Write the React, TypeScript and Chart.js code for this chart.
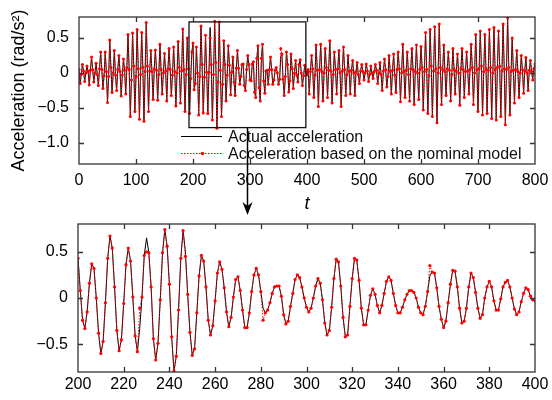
import React, { useEffect, useRef } from "react";
import { Chart, registerables } from "chart.js";

Chart.register(...registerables);

// ---------- DATA ----------
// Top panel: samples every 2 time units
const TOP_STEP = 2;
// t = 0 .. 198
const topHead = [
  0.05, -0.15, -0.02, 0.12, 0.03, -0.12, 0.0, 0.1, 0.02, -0.17, 0.04, 0.23,
  0.05, -0.13, 0.0, 0.14, -0.02, -0.18, 0.06, 0.3, 0.05, -0.22, -0.04, 0.3,
  0.02, -0.42, -0.05, 0.47, 0.08, -0.28, 0.0, 0.32, -0.03, -0.25, 0.05, 0.25,
  0.02, -0.33, -0.03, 0.2, 0.04, -0.3, 0.08, 0.55, 0.05, -0.62, -0.1, 0.57,
  0.1, -0.55, -0.05, 0.62, 0.06, -0.66, -0.02, 0.58, 0.08, -0.69, 0.02, 0.72,
  0.1, -0.55, 0.03, 0.32, 0.02, -0.38, 0.06, 0.33, 0.04, -0.39, -0.02, 0.41,
  0.05, -0.3, 0.0, 0.28, 0.03, -0.4, 0.06, 0.35, 0.05, -0.32, -0.03, 0.37,
  0.02, -0.47, 0.0, 0.45, 0.08, -0.43, 0.03, 0.63, 0.05, -0.55, -0.02, 0.5,
  0.06, -0.58, -0.08, 0.3,
];
// t = 402 .. 800
const topTail = [
  0.05, -0.3, 0.02, 0.25, 0.06, -0.35, -0.03, 0.4, 0.04, -0.48, 0.05, 0.41,
  0.02, -0.4, 0.0, 0.35, 0.08, -0.35, 0.04, 0.46, 0.03, -0.43, -0.02, 0.3,
  0.05, -0.3, 0.06, 0.32, 0.0, -0.48, 0.03, 0.37, 0.05, -0.32, -0.02, 0.25,
  0.02, -0.3, 0.04, 0.18, 0.0, -0.32, 0.02, 0.15, -0.02, -0.15, 0.03, 0.12,
  0.02, -0.1, 0.0, 0.13, 0.03, -0.12, -0.02, 0.1, 0.0, -0.08, 0.02, 0.12,
  0.04, -0.15, 0.0, 0.15, -0.02, -0.25, 0.03, 0.2, 0.05, -0.2, -0.05, 0.25,
  0.02, -0.3, 0.04, 0.27, -0.03, -0.28, 0.05, 0.3, 0.06, -0.41, 0.0, 0.41,
  0.02, -0.35, 0.04, 0.3, -0.02, -0.4, 0.06, 0.35, 0.05, -0.45, 0.02, 0.4,
  0.0, -0.38, 0.05, 0.38, 0.08, -0.53, 0.02, 0.58, 0.05, -0.58, -0.04, 0.62,
  0.1, -0.62, 0.03, 0.66, 0.06, -0.71, 0.0, 0.7, 0.08, -0.45, 0.05, 0.4,
  0.02, -0.32, 0.06, 0.3, 0.04, -0.4, -0.02, 0.35, 0.05, -0.3, 0.03, 0.27,
  0.0, -0.46, 0.06, 0.35, 0.05, -0.35, 0.02, 0.3, 0.03, -0.3, 0.05, 0.41,
  0.08, -0.45, 0.0, 0.55, 0.05, -0.55, 0.06, 0.6, 0.1, -0.6, 0.02, 0.55,
  0.06, -0.58, 0.04, 0.62, 0.08, -0.65, 0.0, 0.65, 0.05, -0.67, 0.08, 0.6,
  0.1, -0.62, 0.03, 0.7, 0.06, -0.74, 0.05, 0.79, 0.08, -0.6, 0.02, 0.5,
  0.04, -0.43, 0.05, 0.32, 0.02, -0.35, 0.0, 0.25, 0.05, -0.29, 0.03, 0.22,
  0.0, -0.25, 0.04, 0.18, 0.02, -0.1, 0.06, 0.13,
];

// Zoomed panel: t = 200 .. 400, every time unit
const ZOOM_START = 200;
const zoomActual = [
  0.43, 0.08, -0.24, -0.33, -0.15, 0.16, 0.37, 0.32, 0.0, -0.38,
  -0.6, -0.47, -0.05, 0.43, 0.67, 0.54, 0.12, -0.35, -0.57, -0.45,
  -0.06, 0.36, 0.54, 0.4, 0.01, -0.41, -0.58, -0.33, 0.01, 0.46,
  0.65, 0.49, 0.12, -0.44, -0.67, -0.49, -0.02, 0.49, 0.74, 0.56,
  0.15, -0.42, -0.79, -0.63, -0.13, 0.43, 0.73, 0.5, 0.04, -0.37,
  -0.62, -0.55, -0.16, 0.24, 0.46, 0.4, 0.12, -0.24, -0.4, -0.3,
  -0.03, 0.27, 0.39, 0.31, 0.11, -0.15, -0.31, -0.21, 0.01, 0.2,
  0.23, 0.08, -0.13, -0.32, -0.32, -0.16, 0.07, 0.25, 0.32, 0.25,
  0.07, -0.11, -0.16, -0.13, -0.05, 0.05, 0.12, 0.13, 0.13, 0.02,
  -0.18, -0.28, -0.25, -0.09, 0.05, 0.2, 0.25, 0.22, 0.12, 0.0,
  -0.1, -0.15, -0.11, 0.0, 0.13, 0.21, 0.16, -0.02, -0.27, -0.4,
  -0.35, -0.1, 0.21, 0.42, 0.39, 0.13, -0.21, -0.42, -0.4, -0.09,
  0.21, 0.43, 0.41, 0.19, -0.11, -0.29, -0.29, -0.13, 0.03, 0.1,
  0.04, -0.08, -0.16, -0.08, 0.05, 0.18, 0.23, 0.19, 0.05, -0.08,
  -0.16, -0.16, -0.1, -0.02, 0.04, 0.08, 0.08, 0.06, 0.0, -0.1,
  -0.16, -0.18, -0.09, 0.07, 0.24, 0.28, 0.27, 0.11, -0.09, -0.23,
  -0.32, -0.25, -0.05, 0.15, 0.3, 0.29, 0.12, -0.11, -0.27, -0.25,
  -0.11, 0.12, 0.27, 0.22, 0.06, -0.11, -0.22, -0.18, 0.0, 0.12,
  0.18, 0.12, -0.03, -0.13, -0.13, -0.01, 0.12, 0.17, 0.19, 0.12,
  0.0, -0.12, -0.18, -0.15, -0.04, 0.05, 0.11, 0.09, 0.02, -0.02,
  -0.03,
];
const zoomModel = [
  0.43, 0.08, -0.24, -0.33, -0.15, 0.16, 0.37, 0.32, 0.0, -0.38,
  -0.6, -0.47, -0.05, 0.43, 0.67, 0.54, 0.12, -0.35, -0.57, -0.45,
  -0.06, 0.36, 0.54, 0.4, 0.01, -0.41, -0.58, -0.11, 0.01, 0.46,
  0.5, 0.49, 0.12, -0.44, -0.67, -0.49, -0.02, 0.49, 0.74, 0.56,
  0.15, -0.42, -0.79, -0.63, -0.13, 0.43, 0.73, 0.45, 0.04, -0.37,
  -0.62, -0.55, -0.16, 0.24, 0.46, 0.4, 0.12, -0.24, -0.4, -0.3,
  -0.03, 0.27, 0.39, 0.31, 0.11, -0.15, -0.31, -0.21, 0.01, 0.2,
  0.23, 0.08, -0.13, -0.32, -0.32, -0.16, 0.07, 0.25, 0.32, 0.25,
  0.07, -0.24, -0.16, -0.13, -0.05, 0.05, 0.12, 0.13, 0.13, 0.02,
  -0.18, -0.28, -0.25, -0.09, 0.05, 0.2, 0.25, 0.22, 0.12, 0.0,
  -0.1, -0.15, -0.11, 0.0, 0.13, 0.21, 0.16, -0.02, -0.27, -0.4,
  -0.35, -0.1, 0.21, 0.42, 0.39, 0.13, -0.21, -0.42, -0.4, -0.09,
  0.21, 0.43, 0.41, 0.19, -0.11, -0.29, -0.29, -0.13, 0.03, 0.1,
  0.04, -0.08, -0.16, -0.08, 0.05, 0.18, 0.23, 0.19, 0.05, -0.08,
  -0.16, -0.16, -0.1, -0.02, 0.04, 0.08, 0.08, 0.06, 0.0, -0.1,
  -0.16, -0.18, -0.09, 0.07, 0.35, 0.28, 0.27, 0.11, -0.09, -0.23,
  -0.32, -0.25, -0.05, 0.15, 0.3, 0.29, 0.12, -0.11, -0.27, -0.25,
  -0.11, 0.12, 0.27, 0.22, 0.06, -0.11, -0.22, -0.18, 0.0, 0.12,
  0.18, 0.12, -0.03, -0.13, -0.13, -0.01, 0.12, 0.17, 0.19, 0.12,
  0.0, -0.12, -0.18, -0.15, -0.04, 0.05, 0.11, 0.09, 0.02, -0.02,
  -0.03,
];

const topXTicks = [0, 100, 200, 300, 400, 500, 600, 700, 800];
const topYTicks = [-1, -0.5, 0, 0.5];
const zoomXTicks = [200, 220, 240, 260, 280, 300, 320, 340, 360, 380, 400];
const zoomYTicks = [-0.5, 0, 0.5];
const legendLabels = ["Actual acceleration", "Acceleration based on the nominal model"];
const yTitle = "Acceleration (rad/s\u00B2)";
const xTitle = "t";
// zoom window marked on the top panel
const zoomBoxT = [193, 398];
const zoomBoxY = [-0.78, 0.73];

// ---------- helpers ----------
const FONT = "'Liberation Sans', Arial, Helvetica, sans-serif";
const RED = "#ff0000";
const FRAME = "#333333";

function fmtY(v: number) {
  if (Math.abs(v) < 1e-9) return "0";
  return (v < 0 ? "\u2212" : "") + Math.abs(v).toFixed(1);
}

function topPoints(zoom: number[]) {
  const pts: { x: number; y: number }[] = [];
  topHead.forEach((y, i) => pts.push({ x: i * TOP_STEP, y }));
  zoom.forEach((y, i) => {
    if (i % TOP_STEP === 0) pts.push({ x: ZOOM_START + i, y });
  });
  const tailStart = ZOOM_START + zoom.length - 1 + TOP_STEP;
  topTail.forEach((y, i) => pts.push({ x: tailStart + i * TOP_STEP, y }));
  return pts;
}

function zoomPoints(arr: number[]) {
  return arr.map((y, i) => ({ x: ZOOM_START + i, y }));
}

const framePlugin = {
  id: "frame",
  afterDatasetsDraw(chart: any) {
    const { ctx, chartArea: a, scales } = chart;
    const xt: number[] = chart.options.plugins.frame.xTicks;
    const yt: number[] = chart.options.plugins.frame.yTicks;
    ctx.save();
    ctx.strokeStyle = FRAME;
    ctx.lineWidth = 1.3;
    ctx.beginPath();
    const L = 5;
    xt.forEach((v) => {
      const px = Math.round(scales.x.getPixelForValue(v)) + 0.5;
      if (px < a.left + 2 || px > a.right - 2) return;
      ctx.moveTo(px, a.bottom);
      ctx.lineTo(px, a.bottom - L);
      ctx.moveTo(px, a.top);
      ctx.lineTo(px, a.top + L);
    });
    yt.forEach((v) => {
      const py = Math.round(scales.y.getPixelForValue(v)) + 0.5;
      if (py < a.top + 2 || py > a.bottom - 2) return;
      ctx.moveTo(a.left, py);
      ctx.lineTo(a.left + L, py);
      ctx.moveTo(a.right, py);
      ctx.lineTo(a.right - L, py);
    });
    ctx.stroke();
    ctx.strokeRect(a.left, a.top, a.right - a.left, a.bottom - a.top);
    ctx.restore();
  },
};

const topDecorPlugin = {
  id: "topDecor",
  afterDraw(chart: any) {
    const { ctx, chartArea: a, scales } = chart;
    ctx.save();
    // zoom box
    const x0 = scales.x.getPixelForValue(zoomBoxT[0]);
    const x1 = scales.x.getPixelForValue(zoomBoxT[1]);
    const y0 = scales.y.getPixelForValue(zoomBoxY[1]);
    const y1 = scales.y.getPixelForValue(zoomBoxY[0]);
    ctx.strokeStyle = "#111";
    ctx.lineWidth = 1.3;
    ctx.strokeRect(x0, y0, x1 - x0, y1 - y0);

    // legend
    ctx.font = `16px ${FONT}`;
    ctx.fillStyle = "#111";
    ctx.textBaseline = "alphabetic";
    ctx.textAlign = "left";
    ctx.strokeStyle = "#000";
    ctx.lineWidth = 1;
    ctx.beginPath();
    ctx.moveTo(181, 136.5);
    ctx.lineTo(222, 136.5);
    ctx.stroke();
    ctx.fillText(legendLabels[0], 228, 142);
    ctx.strokeStyle = RED;
    ctx.setLineDash([1.5, 1.5]);
    ctx.beginPath();
    ctx.moveTo(181, 153.5);
    ctx.lineTo(222, 153.5);
    ctx.stroke();
    ctx.setLineDash([]);
    ctx.fillStyle = RED;
    ctx.beginPath();
    ctx.arc(202.5, 153.5, 1.8, 0, Math.PI * 2);
    ctx.fill();
    ctx.fillStyle = "#111";
    ctx.fillText(legendLabels[1], 228, 158.5);

    // arrow from zoom box down to the zoomed panel
    const ax = Math.round((x0 + x1) / 2) + 0.5;
    const tipY = 215;
    ctx.strokeStyle = "#000";
    ctx.lineWidth = 1.5;
    ctx.beginPath();
    ctx.moveTo(ax, y1);
    ctx.lineTo(ax, tipY - 6);
    ctx.stroke();
    ctx.fillStyle = "#000";
    ctx.beginPath();
    ctx.moveTo(ax, tipY);
    ctx.lineTo(ax - 5, tipY - 13);
    ctx.lineTo(ax, tipY - 9);
    ctx.lineTo(ax + 5, tipY - 13);
    ctx.closePath();
    ctx.fill();

    // axis titles
    ctx.fillStyle = "#000";
    ctx.font = `italic 18px ${FONT}`;
    ctx.textAlign = "center";
    ctx.fillText(xTitle, (a.left + a.right) / 2, 209);
    ctx.font = `18px ${FONT}`;
    ctx.translate(19, (a.top + a.bottom) / 2);
    ctx.rotate(-Math.PI / 2);
    ctx.textBaseline = "middle";
    ctx.fillText(yTitle, 0, 0);
    ctx.restore();
  },
};

function baseScales(
  xMin: number, xMax: number, yMin: number, yMax: number,
  xTicks: number[], yTicks: number[], yWidth: number, xHeight: number, xPad: number
) {
  return {
    x: {
      type: "linear",
      min: xMin,
      max: xMax,
      grid: { display: false, drawTicks: false },
      border: { display: false },
      afterBuildTicks: (s: any) => { s.ticks = xTicks.map((v) => ({ value: v })); },
      afterFit: (s: any) => {
        s.height = xHeight;
        s.paddingLeft = 0;
        s.paddingRight = 0;
        s.paddingTop = 0;
        s.paddingBottom = 0;
      },
      ticks: {
        color: "#000",
        font: { family: FONT, size: 16 },
        padding: xPad,
        maxRotation: 0,
        autoSkip: false,
        callback: (v: any) => String(v),
      },
    },
    y: {
      type: "linear",
      min: yMin,
      max: yMax,
      grid: { display: false, drawTicks: false },
      border: { display: false },
      afterBuildTicks: (s: any) => { s.ticks = yTicks.map((v) => ({ value: v })); },
      afterFit: (s: any) => {
        s.width = yWidth;
        s.paddingLeft = 0;
        s.paddingRight = 0;
        s.paddingTop = 0;
        s.paddingBottom = 0;
      },
      ticks: {
        color: "#000",
        font: { family: FONT, size: 16 },
        padding: 10,
        autoSkip: false,
        callback: (v: any) => fmtY(Number(v)),
      },
    },
  };
}

function datasets(actual: any[], model: any[], r: number) {
  return [
    {
      label: legendLabels[0],
      data: actual,
      borderColor: "#000",
      borderWidth: 1,
      pointRadius: 0,
      tension: 0,
      order: 2,
    },
    {
      label: legendLabels[1],
      data: model,
      borderColor: RED,
      borderWidth: 1,
      borderDash: [1.5, 1.5],
      pointRadius: r,
      pointBackgroundColor: RED,
      pointBorderWidth: 0,
      tension: 0,
      order: 1,
    },
  ];
}

export default function App() {
  const topRef = useRef<HTMLCanvasElement>(null);
  const botRef = useRef<HTMLCanvasElement>(null);

  useEffect(() => {
    const top = new Chart(topRef.current as HTMLCanvasElement, {
      type: "line",
      data: { datasets: datasets(topPoints(zoomActual), topPoints(zoomModel), 1.5) as any },
      options: {
        responsive: false,
        animation: false,
        layout: { padding: { left: 0, right: 17, top: 17, bottom: 0 } },
        scales: baseScales(0, 800, -1.3, 0.8, topXTicks, topYTicks, 79, 56, 7) as any,
        plugins: {
          legend: { display: false },
          tooltip: { enabled: false },
          frame: { xTicks: topXTicks, yTicks: topYTicks },
        } as any,
      },
      plugins: [framePlugin, topDecorPlugin],
    });
    const bot = new Chart(botRef.current as HTMLCanvasElement, {
      type: "line",
      data: { datasets: datasets(zoomPoints(zoomActual), zoomPoints(zoomModel), 1.6) as any },
      options: {
        responsive: false,
        animation: false,
        layout: { padding: { left: 0, right: 17, top: 4, bottom: 0 } },
        scales: baseScales(200, 400, -0.8, 0.8, zoomXTicks, zoomYTicks, 78, 28, 3) as any,
        plugins: {
          legend: { display: false },
          tooltip: { enabled: false },
          frame: { xTicks: zoomXTicks, yTicks: zoomYTicks },
        } as any,
      },
      plugins: [framePlugin],
    });
    return () => {
      top.destroy();
      bot.destroy();
    };
  }, []);

  return (
    <div style={{ position: "fixed", left: 0, top: 0, width: 552, height: 400, background: "#fff" }}>
      <canvas ref={topRef} width={552} height={220} style={{ display: "block", width: 552, height: 220 }} />
      <canvas ref={botRef} width={552} height={180} style={{ display: "block", width: 552, height: 180 }} />
    </div>
  );
}
